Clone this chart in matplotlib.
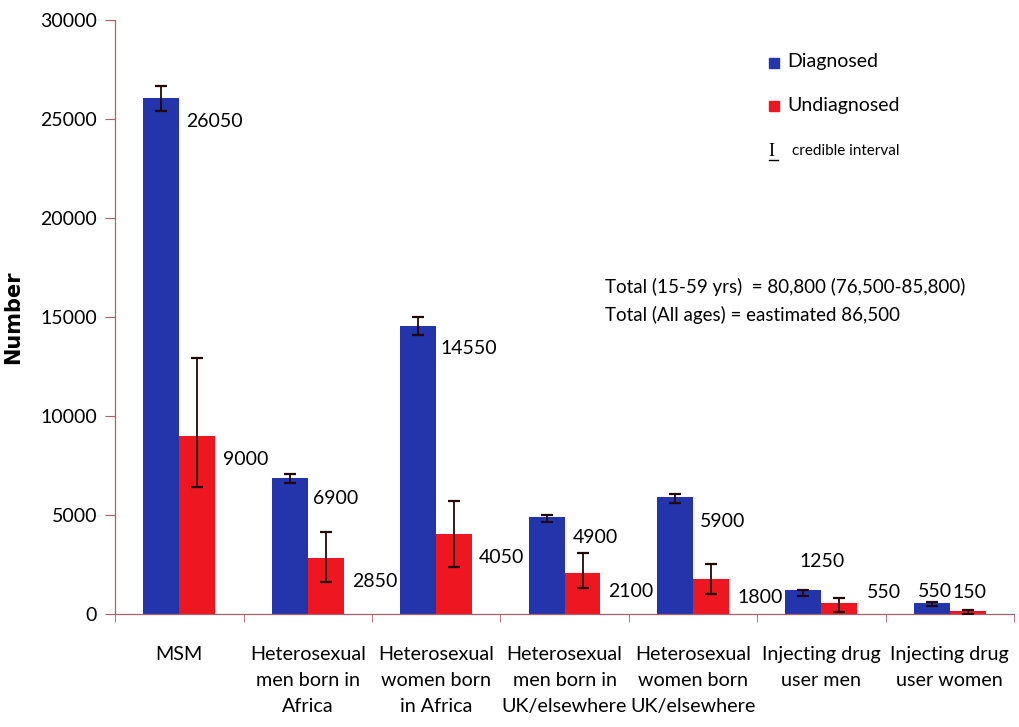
"""Estimated number of people living with HIV, diagnosed vs undiagnosed."""

import numpy as np
import matplotlib
matplotlib.use("Agg")
import matplotlib.pyplot as plt
from matplotlib.patches import Rectangle
from matplotlib.lines import Line2D

plt.rcParams['font.family'] = ['Lato', 'DejaVu Sans']

categories = ['MSM', 'Heterosexual\nmen born in\nAfrica', 'Heterosexual\nwomen born\nin Africa',
              'Heterosexual\nmen born in\nUK/elsewhere', 'Heterosexual\nwomen born\nUK/elsewhere',
              'Injecting drug\nuser men', 'Injecting drug\nuser women']
diagnosed = [26050, 6900, 14550, 4900, 5900, 1250, 550]
undiagnosed = [9000, 2850, 4050, 2100, 1800, 550, 150]
# credible intervals
diag_low = [25400, 6630, 14090, 4660, 5620, 910, 400]
diag_high = [26650, 7060, 15000, 5030, 6050, 1250, 620]
undiag_low = [6400, 1630, 2390, 1330, 1050, 120, 40]
undiag_high = [12930, 4160, 5700, 3070, 2560, 840, 240]

BLUE = '#2434AA'
RED = '#EE1620'
SPINE = '#A8606C'

# label offsets in pixels from the top-right corner of each bar
diag_off = [(7, -24), (5, -21), (4, -23), (8, -20), (7, -24), (-22, 28), (-32, 12)]
undiag_off = [(8, -24), (8, -24), (7, -23), (8, -19), (9, -19), (10, 11), (-33, 19)]

fig = plt.figure(figsize=(10.19, 7.27), dpi=100)
ax = fig.add_axes([0.113, 0.155, 0.882, 0.818])

x = np.arange(len(categories))
w = 0.28
ax.bar(x - w / 2, diagnosed, w, color=BLUE, zorder=2)
ax.bar(x + w / 2, undiagnosed, w, color=RED, zorder=2)

d = np.array(diagnosed)
u = np.array(undiagnosed)
ax.errorbar(x - w / 2, d, yerr=[d - np.array(diag_low), np.array(diag_high) - d],
            fmt='none', ecolor='#200808', elinewidth=1.3, capsize=4, capthick=1.6, zorder=3)
ax.errorbar(x + w / 2, u, yerr=[u - np.array(undiag_low), np.array(undiag_high) - u],
            fmt='none', ecolor='#200808', elinewidth=1.3, capsize=4, capthick=1.6, zorder=3)

for i in range(len(categories)):
    ax.annotate(f'{diagnosed[i]}', (x[i], diagnosed[i]), xytext=diag_off[i],
                textcoords='offset pixels', ha='left', va='center', fontsize=14)
    ax.annotate(f'{undiagnosed[i]}', (x[i] + w, undiagnosed[i]), xytext=undiag_off[i],
                textcoords='offset pixels', ha='left', va='center', fontsize=14)

ax.set_xlim(-0.5, len(categories) - 0.5)
ax.set_ylim(0, 30000)
ax.set_yticks(np.arange(0, 30001, 5000))
ax.set_xticks(x)
ax.set_xticklabels(categories, fontsize=14.2, linespacing=1.62)
ax.set_xticks(np.arange(-0.5, len(categories), 1), minor=True)
ax.tick_params(axis='x', which='major', length=0, pad=23)
ax.tick_params(axis='x', which='minor', length=6, color=SPINE, direction='out')
ax.tick_params(axis='y', length=7, color=SPINE, direction='out', labelsize=14, pad=6)
ax.set_ylabel('Number', fontsize=15, fontweight='bold', family='DejaVu Sans')
ax.yaxis.set_label_coords(-0.102, 0.5)

for s in ['top', 'right']:
    ax.spines[s].set_visible(False)
for s in ['left', 'bottom']:
    ax.spines[s].set_color(SPINE)
    ax.spines[s].set_linewidth(0.9)

# legend drawn by hand to match the original layout
fig.patches.append(Rectangle((769 / 1019, 1 - 68 / 727), 10 / 1019, 10 / 727,
                             transform=fig.transFigure, color=BLUE))
fig.text(787 / 1019, 1 - 62 / 727, 'Diagnosed', fontsize=14, va='center')
fig.patches.append(Rectangle((769 / 1019, 1 - 111 / 727), 10 / 1019, 10 / 727,
                             transform=fig.transFigure, color=RED))
fig.text(787 / 1019, 1 - 105 / 727, 'Undiagnosed', fontsize=14, va='center')
fig.text(768 / 1019, 1 - 151 / 727, 'I', fontsize=13, va='center', family='Liberation Serif')
fig.lines.append(Line2D([769 / 1019, 778 / 1019], [1 - 160 / 727, 1 - 160 / 727],
                        transform=fig.transFigure, color='k', lw=1))
fig.text(792 / 1019, 1 - 151 / 727, 'credible interval', fontsize=11, va='center')

fig.text(605 / 1019, 1 - 287 / 727, 'Total (15-59 yrs)  = 80,800 (76,500-85,800)',
         fontsize=13.5, va='center')
fig.text(605 / 1019, 1 - 315 / 727, 'Total (All ages) = eastimated 86,500',
         fontsize=13.5, va='center')

fig.savefig('out.png', dpi=100)
